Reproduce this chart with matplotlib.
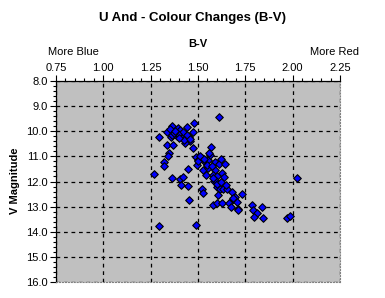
import matplotlib
matplotlib.use("Agg")
import matplotlib.pyplot as plt
from matplotlib.ticker import MultipleLocator, FormatStrFormatter

# B-V colour index and V magnitude
bv = [1.613, 1.481, 1.364, 1.396, 1.440, 1.335, 1.352, 1.414, 1.422, 1.475,
      1.296, 1.357, 1.390, 1.405, 1.422, 1.392, 1.453, 1.458, 1.431, 1.428,
      1.338, 1.366, 1.475, 1.349, 1.343, 1.322, 1.322, 1.269, 1.364, 1.405,
      1.419, 1.410, 1.449, 1.449, 1.454, 1.296, 1.491, 1.490, 1.502, 1.520,
      1.537, 1.555, 1.563, 1.567, 1.560, 1.590, 1.611, 1.622, 1.643, 1.493,
      1.528, 1.555, 1.542, 1.590, 1.581, 1.602, 1.625, 1.637, 1.586, 1.599,
      1.520, 1.528, 1.616, 1.634, 1.655, 1.678, 1.607, 1.696, 1.683, 1.704,
      1.581, 1.602, 1.625, 1.665, 1.673, 1.710, 2.021, 1.731, 1.785, 1.837,
      1.793, 1.811, 1.798, 1.845, 1.968, 1.986, 1.687, 1.590, 1.599, 1.364,
      1.440, 1.400, 1.500, 1.510, 1.530, 1.460, 1.372, 1.380, 1.545, 1.575,
      1.620, 1.650, 1.713, 1.580]
vmag = [9.45, 9.69, 9.79, 9.89, 9.84, 10.04, 9.92, 10.08, 10.19, 10.04,
        10.24, 10.22, 10.19, 9.95, 10.02, 10.11, 10.22, 10.38, 10.46, 10.35,
        10.55, 10.55, 10.68, 10.86, 10.98, 11.24, 11.37, 11.71, 11.88, 11.92,
        11.81, 12.12, 11.52, 12.18, 12.74, 13.78, 13.75, 11.04, 11.15, 11.08,
        11.22, 11.15, 10.95, 10.64, 10.86, 11.22, 11.31, 11.12, 11.31, 11.35,
        11.55, 11.48, 11.75, 11.55, 11.75, 11.79, 11.68, 11.84, 11.97, 12.21,
        12.31, 12.45, 12.31, 12.31, 12.31, 12.41, 12.54, 12.61, 12.71, 12.81,
        12.94, 12.87, 12.87, 12.87, 13.01, 13.11, 11.88, 12.50, 12.94, 13.01,
        13.14, 13.27, 13.40, 13.47, 13.44, 13.38, 12.67, 11.95, 12.08, 10.13,
        10.13, 10.25, 11.20, 11.00, 11.12, 10.30, 10.05, 9.98, 11.35, 11.40,
        12.00, 12.15, 13.14, 11.85]

plt.rcParams['font.family'] = ['Liberation Sans', 'DejaVu Sans']

fig = plt.figure(figsize=(3.85, 2.98), dpi=100)
ax = fig.add_axes([56/385, 1 - 282/298, 284/385, 201/298])
ax.set_facecolor('#c0c0c0')

ax.scatter(bv, vmag, marker='D', s=15, color='#0000ff', edgecolors='black',
           linewidths=0.8, zorder=3)

ax.set_xlim(0.75, 2.25)
ax.set_ylim(16, 8)
ax.xaxis.tick_top()
ax.xaxis.set_major_locator(MultipleLocator(0.25))
ax.xaxis.set_minor_locator(MultipleLocator(0.05))
ax.yaxis.set_major_locator(MultipleLocator(1))
ax.yaxis.set_minor_locator(MultipleLocator(0.2))
ax.xaxis.set_major_formatter(FormatStrFormatter('%.2f'))
ax.yaxis.set_major_formatter(FormatStrFormatter('%.1f'))
ax.tick_params(which='major', direction='out', length=4, width=0.8, labelsize=8, pad=2)
ax.tick_params(which='minor', direction='out', length=2, width=0.8)

ax.grid(True, which='major', color='black', linestyle=(0, (3, 3)), linewidth=0.9)
ax.set_axisbelow(True)

for s in ['top', 'left']:
    ax.spines[s].set_color('black')
    ax.spines[s].set_linewidth(0.9)
for s in ['bottom', 'right']:
    ax.spines[s].set_color('#808080')
    ax.spines[s].set_linestyle(':')
    ax.spines[s].set_linewidth(0.8)

fig.text(0.5, 1 - 18/298, 'U And - Colour Changes (B-V)', ha='center', va='center',
         fontsize=9.5, fontweight='bold')
fig.text(198/385, 1 - 44/298, 'B-V', ha='center', va='center', fontsize=8, fontweight='bold')
fig.text(73/385, 1 - 52/298, 'More Blue', ha='center', va='center', fontsize=8)
fig.text(334/385, 1 - 52/298, 'More Red', ha='center', va='center', fontsize=8)
fig.text(15/385, 1 - 181/298, 'V Magnitude', ha='center', va='center', rotation=90,
         fontsize=8, fontweight='bold')

fig.savefig('out.png', dpi=100)
